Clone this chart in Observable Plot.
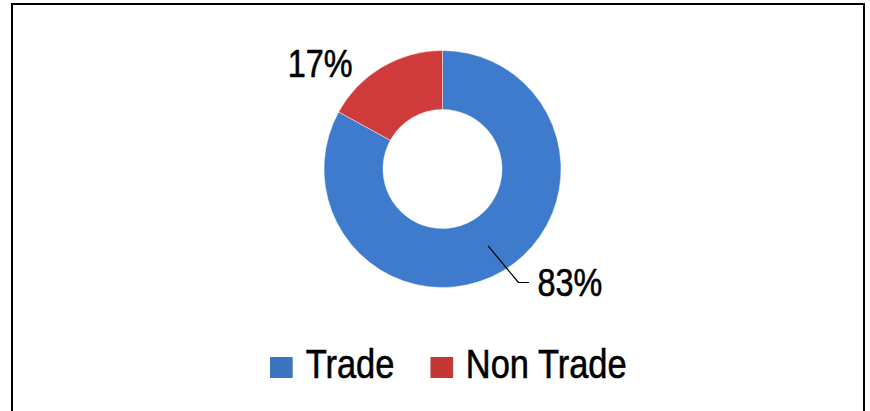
<!DOCTYPE html>
<html>
<head>
<meta charset="utf-8">
<script src="https://cdn.jsdelivr.net/npm/d3@7"></script>
<script src="https://cdn.jsdelivr.net/npm/@observablehq/plot@0.6"></script>
<style>
  html, body { margin: 0; padding: 0; background: #fff; width: 870px; height: 411px; overflow: hidden; position: relative; }
  #chart { position: absolute; left: 0; top: 0; }
  #legend { position: absolute; left: 0; top: 344px; width: 870px; display: flex; justify-content: center; padding-left: 27px; box-sizing: border-box; transform: scaleX(0.84); transform-origin: 448.5px 50%; -webkit-text-stroke: 0.6px #000; }
  #frame { position: absolute; left: 11px; top: 3px; width: 854px; height: 440px; border: 2px solid #000; box-sizing: border-box; pointer-events: none; }
  .lg-swatches { margin: 0 !important; }
  .lg-swatch { margin-right: 43px !important; }
  .lg-swatch:last-child { margin-right: 0 !important; }
  .lg-swatch > svg { margin-right: 15px !important; margin-top: 7px; }
</style>
</head>
<body>
<div id="chart"></div>
<div id="legend"></div>
<div id="frame"></div>
<script>
// ---- data ----
const categories = ["Trade", "Non Trade"];
const shares = [83, 17];
const shareLabels = ["83%", "17%"];
const colors = ["#3b75c2", "#c43737"];

// ---- layout ----
const W = 870, H = 330;
const cx = 442.5, cy = 169;      // donut centre (px)
const R = 118.5, r0 = 59.5;      // outer / inner radius
const FONT = "'Liberation Sans', Arial, sans-serif";
const NARROW = 0.83;

const data = categories.map((c, i) => ({category: c, value: shares[i], label: shareLabels[i]}));
const arcs = d3.pie().sort(null).value(d => d.value).startAngle(0).endAngle(2 * Math.PI)(data);
const color = d3.scaleOrdinal(categories, colors);

const mid = a => (a.startAngle + a.endAngle) / 2;
const polar = (ang, rad) => [rad * Math.sin(ang), -rad * Math.cos(ang)];

const rightLabels = [], leftLabels = [], leaders = [];
arcs.forEach(a => {
  const ang = mid(a);
  if (a.data.category === "Trade") {
    const p0 = polar(ang, (R + r0) / 2);
    const p1 = [75.5, 113];
    const p2 = [p1[0] + 10, p1[1]];
    leaders.push({x: p0[0], y: p0[1]}, {x: p1[0], y: p1[1]}, {x: p2[0], y: p2[1]});
    rightLabels.push({x: p2[0] + 9, y: 126, text: a.data.label});
  } else {
    leftLabels.push({x: -90.5, y: -93, text: a.data.label});
  }
});

const shade = (c, k) => d3.color(c).darker(k).formatHex();
const light = (c, k) => d3.color(c).brighter(k).formatHex();

// donut drawn through the plot's own x/y scales
const donut = (index, scales) => {
  const ox = scales.x(0), oy = scales.y(0);
  const g = d3.create("svg:g");
  const defs = g.append("defs");
  arcs.forEach((a, i) => {
    const c = color(a.data.category);
    const gr = defs.append("radialGradient")
      .attr("id", "grad" + i).attr("gradientUnits", "userSpaceOnUse")
      .attr("cx", ox).attr("cy", oy).attr("r", R);
    const f0 = r0 / R;
    gr.append("stop").attr("offset", 0).attr("stop-color", shade(c, 0.3));
    gr.append("stop").attr("offset", f0).attr("stop-color", shade(c, 0.25));
    gr.append("stop").attr("offset", f0 + 0.06).attr("stop-color", c);
    gr.append("stop").attr("offset", 0.85).attr("stop-color", light(c, 0.06));
    gr.append("stop").attr("offset", 0.95).attr("stop-color", shade(c, 0.12));
    gr.append("stop").attr("offset", 1).attr("stop-color", light(c, 0.15));
  });
  const arc = d3.arc().innerRadius(r0).outerRadius(R);
  g.append("g").attr("transform", `translate(${ox},${oy})`)
    .selectAll("path").data(arcs).join("path")
    .attr("d", arc)
    .attr("fill", (d, i) => `url(#grad${i})`)
    .attr("stroke", "#ffffff").attr("stroke-opacity", 0.45).attr("stroke-width", 1);
  return g.node();
};

const chart = Plot.plot({
  width: W, height: H, margin: 0,
  x: {domain: [-cx, W - cx], range: [0, W], axis: null},
  y: {domain: [-cy, H - cy], range: [0, H], axis: null},
  style: {background: "transparent", overflow: "visible"},
  marks: [
    donut,
    Plot.line(leaders, {x: "x", y: "y", stroke: "#000", strokeWidth: 1.2}),
    Plot.text(rightLabels, {x: "x", y: "y", text: "text", textAnchor: "start", lineAnchor: "bottom", fontSize: 39, fontFamily: FONT, fill: "#000", stroke: "#000", strokeWidth: 0.6}),
    Plot.text(leftLabels, {x: "x", y: "y", text: "text", textAnchor: "end", lineAnchor: "bottom", fontSize: 39, fontFamily: FONT, fill: "#000", stroke: "#000", strokeWidth: 0.6})
  ]
});
// condense label glyphs horizontally around their anchor point (narrow face look)
d3.select(chart).selectAll("text").each(function () {
  const t = d3.select(this);
  const x = +(t.attr("x") || 0), y = +(t.attr("y") || 0);
  const tr = t.attr("transform") || "";
  t.attr("transform", `${tr} translate(${x},${y}) scale(${NARROW},1) translate(${-x},${-y})`);
});
document.getElementById("chart").append(chart);

const legend = Plot.legend({
  color: {type: "ordinal", domain: categories, range: colors},
  legend: "swatches",
  className: "lg",
  swatchWidth: 27, swatchHeight: 21,
  style: {fontSize: "41px", fontFamily: FONT, color: "#000", lineHeight: "40px"}
});
document.getElementById("legend").append(legend);
</script>
</body>
</html>
